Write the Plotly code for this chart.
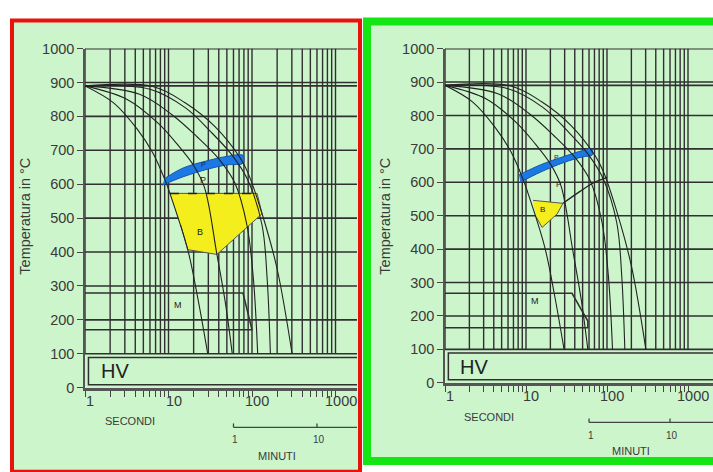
import math
import plotly.graph_objects as go

# ---------------- data ----------------
y_ticks = [0, 100, 200, 300, 400, 500, 600, 700, 800, 900, 1000]
x_label_vals = [1, 10, 100, 1000]
x_label_text = ["1", "10", "100", "1000"]
minor_vals = [1, 2, 3, 4, 5, 6, 7, 8, 9, 10, 20, 30, 40, 50, 60, 70, 80, 90,
              100, 200, 300, 400, 500, 600, 700, 800, 900, 1000]
h_lines = [100, 200, 300, 400, 500, 600, 700, 800, 890, 900, 1000]
minute_vals = [60, 600]
minute_text = ["1", "10"]

# cooling curves (seconds, deg C)
curve_A_t = [1, 2.2, 4.2, 6.5, 9.1, 10.5, 17, 22.4, 29.5]
curve_A_T = [890, 840, 763, 692, 612, 570, 407, 265, 100]
curve_B_t = [1, 3.2, 7.5, 13, 20, 27, 38, 48, 58]
curve_B_T = [890, 850, 780, 715, 655, 590, 393, 250, 100]
curve_C_t = [1, 4.5, 11, 22, 40, 62, 87, 104, 117]
curve_C_T = [890, 865, 805, 740, 675, 605, 479, 320, 100]
curve_D_t = [1, 6, 16, 32, 58, 90, 132, 152, 166]
curve_D_T = [890, 880, 825, 755, 685, 610, 479, 320, 100]
curve_F_t = [1, 6.5, 15.8, 36.3, 72, 89, 132, 200, 302]
curve_F_T = [890, 888, 840, 769, 678, 635, 513, 350, 100]
curves_t = [curve_A_t, curve_B_t, curve_C_t, curve_D_t, curve_F_t]
curves_T = [curve_A_T, curve_B_T, curve_C_T, curve_D_T, curve_F_T]

# martensite lines
m_left_t = [1, 78, 100, 1]
m_left_T = [279, 279, 171, 171]
m_right_t = [1, 37, 58, 58, 1]
m_right_T = [268, 268, 185, 165, 165]

# HV box
hv_t = [10000, 1.1, 1.1, 10000]
hv_T = [89, 89, 9, 9]

# left panel regions
blueL_t = [8.4, 15, 30, 50, 78, 78, 50, 30, 15, 9]
blueL_T = [597, 622, 645, 657, 662, 685, 682, 670, 648, 617]
yellowL_t = [10.4, 115, 132, 38, 17, 14]
yellowL_T = [573, 573, 513, 393, 407, 480]
dashL_t = [10.4, 115]
dashL_T = [573, 573]

# right panel regions
blueR_t = [8.5, 15, 30, 50, 66, 64, 50, 30, 15, 8.2]
blueR_T = [600, 630, 660, 676, 682, 700, 695, 678, 652, 622]
yellowR_t = [12.2, 28.6, 24.2, 15.8, 13.3]
yellowR_T = [546, 537, 505, 465, 497]
pfinR_t = [28.6, 46, 70, 100]
pfinR_T = [537, 572, 600, 615]

# label positions (seconds)
secondi_t = 3.5
minuti_t = 200

# ---------------- layout geometry ----------------
W, H = 713, 472
def px(x):
    return x / W
def py(y):
    return 1 - y / H

panels = [
    dict(xa="x", ya="y", xdom=[px(85), px(357)], xr=[0, (357 - 85) / 83.5],
         ydom=[py(393), py(42)], ybot=393, mt=m_left_t, mT=m_left_T,
         blue=(blueL_t, blueL_T), yellow=(yellowL_t, yellowL_T)),
    dict(xa="x2", ya="y2", xdom=[px(445), px(713)], xr=[0, (713 - 445) / 81.0],
         ydom=[py(388), py(42)], ybot=388, mt=m_right_t, mT=m_right_T,
         blue=(blueR_t, blueR_T), yellow=(yellowR_t, yellowR_T)),
]

fig = go.Figure()
GRID = "#303030"
FONT = "Liberation Sans, Arial, sans-serif"

def add_line(x, y, xa, ya, **line):
    fig.add_trace(go.Scatter(x=x, y=y, mode="lines", xaxis=xa, yaxis=ya, line=line,
                             hoverinfo="skip", showlegend=False))

for i, p in enumerate(panels):
    xa, ya = p["xa"], p["ya"]
    vx, vy = [], []
    for v in minor_vals:
        vx += [v, v, None]
        vy += [100, 1000, None]
    add_line(vx, vy, xa, ya, color=GRID, width=1.4)
    hx, hy = [], []
    for h in h_lines:
        hx += [1, 1e5, None]
        hy += [h, h, None]
    add_line(hx, hy, xa, ya, color=GRID, width=1.6)
    add_line(hv_t, hv_T, xa, ya, color=GRID, width=1.5)
    bt, bT = p["blue"]
    fig.add_trace(go.Scatter(x=bt, y=bT, mode="lines", fill="toself", fillcolor="#1c78e4",
                             line=dict(color="#1457a8", width=1, shape="spline"), xaxis=xa, yaxis=ya,
                             hoverinfo="skip", showlegend=False))
    yt, yT = p["yellow"]
    fig.add_trace(go.Scatter(x=yt, y=yT, mode="lines", fill="toself", fillcolor="#f4ee1c",
                             line=dict(color="#555", width=1), xaxis=xa, yaxis=ya,
                             hoverinfo="skip", showlegend=False))
    if i == 0:
        add_line(dashL_t, dashL_T, xa, ya, color="#222", width=1.5, dash="dash")
    else:
        add_line(pfinR_t, pfinR_T, xa, ya, color="#222", width=1.3, shape="spline")
    for ct, cT in zip(curves_t, curves_T):
        add_line(ct, cT, xa, ya, color="#222", width=1.1, shape="spline")
    add_line(p["mt"], p["mT"], xa, ya, color=GRID, width=1.5)

    ax_common = dict(showgrid=False, zeroline=False, showline=True, linecolor="#555")
    xkey = "xaxis" if i == 0 else "xaxis2"
    ykey = "yaxis" if i == 0 else "yaxis2"
    fig.layout[xkey] = dict(type="log", domain=p["xdom"], range=p["xr"], anchor=ya,
                            tickvals=minor_vals, ticks="outside", ticklen=6, tickwidth=1.3,
                            tickcolor="#444", showticklabels=False, linewidth=3, **ax_common)
    fig.layout[ykey] = dict(domain=p["ydom"], range=[0, 1000], anchor=xa, tickvals=y_ticks,
                            ticks="outside", ticklen=6, tickwidth=1.3, tickcolor="#444",
                            linewidth=1.5,
                            tickfont=dict(family=FONT, size=14.5, color="#3a3a3a"),
                            **ax_common)

shapes = [
    dict(type="rect", xref="paper", yref="paper", x0=px(12), x1=px(360), y0=py(480), y1=py(13),
         fillcolor="#ccf5cc", line=dict(color="#e8140c", width=4), layer="below"),
    dict(type="rect", xref="paper", yref="paper", x0=px(367), x1=px(730), y0=py(469), y1=py(14),
         fillcolor="#ccf5cc", line=dict(color="#14e614", width=8), layer="below"),
]

annotations = []
label_font = dict(family=FONT, size=14.5, color="#3a3a3a")
small_font = dict(family=FONT, size=11, color="#3a3a3a")

def ann(**kw):
    kw.setdefault("showarrow", False)
    kw.setdefault("xanchor", "center")
    kw.setdefault("yanchor", "middle")
    annotations.append(kw)

for i, p in enumerate(panels):
    xa, ya, ybot = p["xa"], p["ya"], p["ybot"]
    for v, t in zip(x_label_vals, x_label_text):
        ann(x=math.log10(v), y=py(ybot + 14), xref=xa, yref="paper", text=t,
            font=label_font, xshift=5)
    ann(x=math.log10(secondi_t), y=py(ybot + 35), xref=xa, yref="paper", text="SECONDI",
        font=small_font)
    shapes.append(dict(type="line", xref=xa, yref="paper", x0=minute_vals[0], x1=1e5,
                       y0=py(ybot + 41), y1=py(ybot + 41), line=dict(color="#444", width=1.3)))
    for mv, mt in zip(minute_vals, minute_text):
        shapes.append(dict(type="line", xref=xa, yref="paper", x0=mv, x1=mv,
                           y0=py(ybot + 41), y1=py(ybot + 37), line=dict(color="#444", width=1.3)))
        ann(x=math.log10(mv), y=py(ybot + 54), xref=xa, yref="paper", text=mt,
            font=dict(family=FONT, size=10, color="#3a3a3a"), xshift=2)
    ann(x=math.log10(minuti_t), y=py(ybot + 71), xref=xa, yref="paper", text="MINUTI",
        font=small_font)
    ann(x=math.log10(2.3), y=48, xref=xa, yref=ya, text="HV",
        font=dict(family=FONT, size=20, color="#222"))
    ann(x=math.log10(13), y=245, xref=xa, yref=ya, text="M",
        font=dict(family=FONT, size=9, color="#222"))
    ann(x=px(25 if i == 0 else 385), y=py(216), xref="paper", yref="paper",
        text="Temperatura in °C", textangle=-90,
        font=dict(family=FONT, size=14.5, color="#3a3a3a"))

ann(x=math.log10(26), y=612, xref="x", yref="y", text="P", font=dict(family=FONT, size=9, color="#222"))
ann(x=math.log10(26), y=658, xref="x", yref="y", text="P", font=dict(family=FONT, size=7, color="#0b2a55"))
ann(x=math.log10(24), y=459, xref="x", yref="y", text="B", font=dict(family=FONT, size=9, color="#222"))
ann(x=math.log10(25), y=592, xref="x2", yref="y2", text="P", font=dict(family=FONT, size=8, color="#222"))
ann(x=math.log10(24), y=674, xref="x2", yref="y2", text="P", font=dict(family=FONT, size=7, color="#0b2a55"))
ann(x=math.log10(16), y=520, xref="x2", yref="y2", text="B", font=dict(family=FONT, size=8, color="#222"))

fig.update_layout(width=W, height=H, margin=dict(l=0, r=0, t=0, b=0),
                  paper_bgcolor="white", plot_bgcolor="rgba(0,0,0,0)",
                  shapes=shapes, annotations=annotations, showlegend=False)
fig.write_html("out.html")
